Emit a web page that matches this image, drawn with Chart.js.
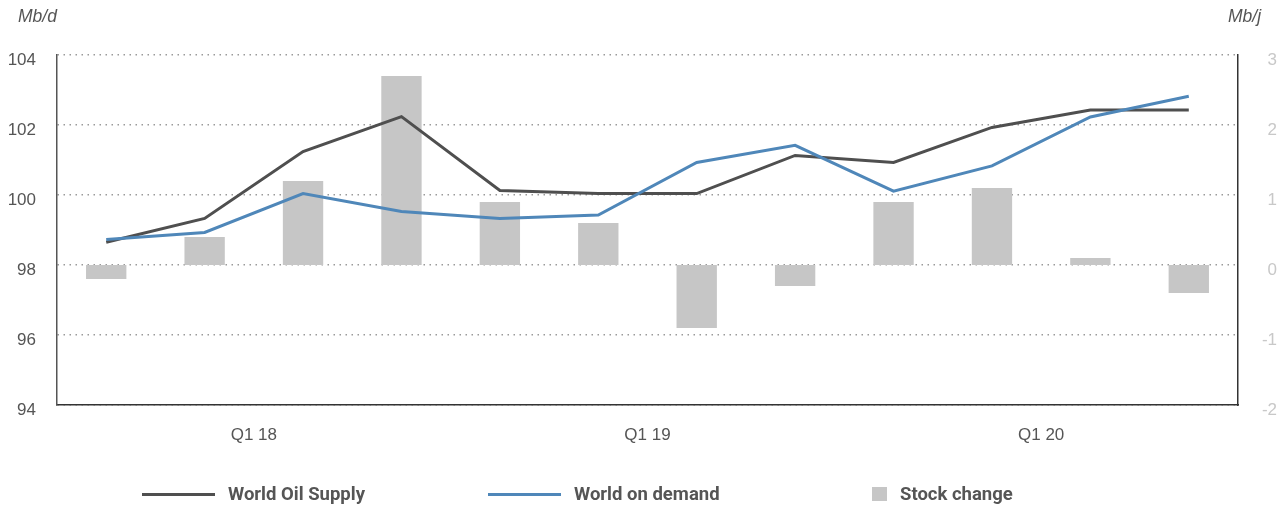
<!DOCTYPE html>
<html>
<head>
<meta charset="utf-8">
<script src="https://cdn.jsdelivr.net/npm/chart.js@4/dist/chart.umd.min.js"></script>
<style>
  html, body { margin: 0; padding: 0; background: #fff; }
  #wrap { position: relative; width: 1277px; height: 506px; overflow: hidden; font-family: "Liberation Sans", Arial, sans-serif; }
  #c { position: absolute; left: 0; top: 0; }
  .unit { position: absolute; top: 6px; font-style: italic; font-size: 17.5px; color: #555; }
  .leg { position: absolute; top: 482px; height: 24px; display: flex; align-items: center; white-space: nowrap; }
  .leg .sw { display: inline-block; flex: none; }
  .leg .tx { display: inline-block; font-family: Roboto, "Liberation Sans", sans-serif; font-weight: bold; font-size: 18.5px; color: #555; margin-left: 13px; }
</style>
</head>
<body>
<div id="wrap">
  <canvas id="c" width="1277" height="506"></canvas>
  <div class="unit" style="left:18px;">Mb/d</div>
  <div class="unit" style="left:1228px;">Mb/j</div>
  <div id="legend"></div>
</div>
<script>
// ---- data ----
const categories = ['Q1 18','Q2 18','Q3 18','Q4 18','Q1 19','Q2 19','Q3 19','Q4 19','Q1 20','Q2 20','Q3 20','Q4 20'];
const yearGroupLabels = ['Q1 18','Q1 19','Q1 20'];
const worldOilSupply = [98.65, 99.33, 101.24, 102.24, 100.13, 100.04, 100.04, 101.13, 100.93, 101.93, 102.43, 102.43];
const worldOilDemand = [98.73, 98.93, 100.04, 99.53, 99.33, 99.43, 100.93, 101.42, 100.11, 100.83, 102.23, 102.82];
const stockChange = [-0.2, 0.4, 1.2, 2.7, 0.9, 0.6, -0.9, -0.3, 0.9, 1.1, 0.1, -0.4];
const seriesNames = ['World Oil Supply', 'World on demand', 'Stock change'];
const leftTicks = { min: 94, max: 104, step: 2 };
const rightTicks = { min: -2, max: 3, step: 1 };

const colSupply = '#4f4f4f';
const colDemand = '#4f87b9';
const colStock = '#c6c6c6';

const groupSize = categories.length / yearGroupLabels.length;
const groupCenters = yearGroupLabels.map((_, g) => g * groupSize + groupSize / 2);
const tickFont = { family: '"Liberation Sans", Arial, sans-serif', size: 17 };

const chart = new Chart(document.getElementById('c'), {
  data: {
    labels: categories,
    datasets: [
      { type: 'line', label: seriesNames[1], data: worldOilDemand, yAxisID: 'y', xAxisID: 'x',
        borderColor: colDemand, borderWidth: 3, pointRadius: 0, tension: 0, order: 0 },
      { type: 'line', label: seriesNames[0], data: worldOilSupply, yAxisID: 'y', xAxisID: 'x',
        borderColor: colSupply, borderWidth: 3, pointRadius: 0, tension: 0, order: 1 },
      { type: 'bar', label: seriesNames[2], data: stockChange, yAxisID: 'y1', xAxisID: 'x',
        backgroundColor: colStock, barPercentage: 0.41, categoryPercentage: 1, order: 2 }
    ]
  },
  options: {
    responsive: false,
    animation: false,
    layout: { padding: { top: 55, bottom: 0, left: 0, right: 0 } },
    plugins: { legend: { display: false }, tooltip: { enabled: false } },
    scales: {
      x: {
        type: 'category', position: 'bottom', offset: true, weight: 0,
        grid: { display: false },
        border: { display: true, color: '#333', width: 1.5 },
        ticks: { display: false },
        afterFit: (s) => { s.height = 0; }
      },
      x2: {
        type: 'linear', position: 'bottom', weight: 1, min: 0, max: categories.length,
        grid: { display: false },
        border: { display: false },
        afterBuildTicks: (s) => { s.ticks = groupCenters.map(v => ({ value: v })); },
        ticks: {
          padding: 12, color: '#555', maxRotation: 0, autoSkip: false, font: tickFont,
          callback: (v) => { const i = groupCenters.indexOf(v); return i >= 0 ? yearGroupLabels[i] : ''; }
        },
        afterFit: (s) => { s.height = 101; }
      },
      y: {
        position: 'left', min: leftTicks.min, max: leftTicks.max,
        grid: { color: '#9a9a9a', lineWidth: 1.5, drawTicks: false },
        border: { display: true, color: '#555', width: 1.5, dash: [1.5, 4.5] },
        ticks: { stepSize: leftTicks.step, padding: 21, color: '#555', font: tickFont, labelOffset: 5 },
        afterFit: (s) => { s.width = 57; }
      },
      y1: {
        position: 'right', min: rightTicks.min, max: rightTicks.max,
        grid: { display: false },
        border: { display: true, color: '#333', width: 1.5 },
        ticks: { stepSize: rightTicks.step, padding: 15, color: '#c8c8c8', font: tickFont,
          crossAlign: 'far', labelOffset: 5 },
        afterFit: (s) => { s.width = 39; }
      }
    }
  }
});

// ---- HTML legend built from the chart's datasets ----
const legend = document.getElementById('legend');
const legendSpec = [
  { name: seriesNames[0], color: colSupply, kind: 'line', left: 142 },
  { name: seriesNames[1], color: colDemand, kind: 'line', left: 488 },
  { name: seriesNames[2], color: colStock, kind: 'box', left: 872 }
];
legendSpec.forEach(it => {
  const d = document.createElement('div');
  d.className = 'leg';
  d.style.left = it.left + 'px';
  const sw = document.createElement('span');
  sw.className = 'sw';
  if (it.kind === 'line') { sw.style.width = '73px'; sw.style.height = '3px'; sw.style.background = it.color; }
  else { sw.style.width = '15px'; sw.style.height = '14px'; sw.style.background = it.color; }
  const tx = document.createElement('span');
  tx.className = 'tx';
  tx.textContent = it.name;
  d.appendChild(sw); d.appendChild(tx);
  legend.appendChild(d);
});
</script>
</body>
</html>
